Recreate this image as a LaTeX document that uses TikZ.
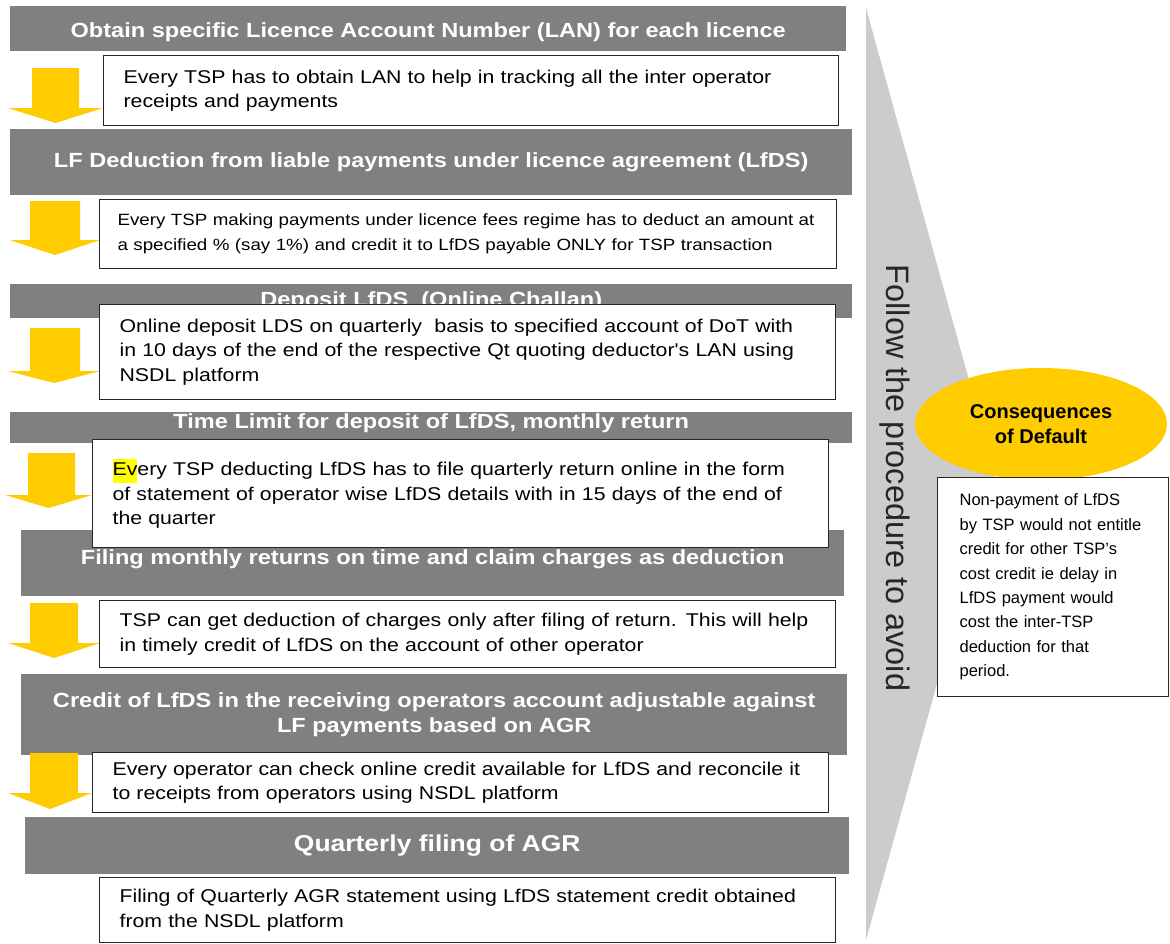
\documentclass[tikz,border=0pt]{standalone}
\usepackage{fontspec}
\setmainfont{Liberation Sans}
\newfontfamily\widesans{Liberation Sans}[FakeStretch=1.15]
\usetikzlibrary{shapes.geometric}
\definecolor{stagegray}{HTML}{808080}
\definecolor{flowgold}{HTML}{FFCC00}
\definecolor{wedgegray}{HTML}{CCCCCC}
\definecolor{markyellow}{HTML}{FFFF00}

\begin{document}
\begin{tikzpicture}[x=1pt, y=-1pt,
    stage/.style={fill=stagegray, text=white, anchor=north west, inner sep=0pt,
                  align=center, font=\widesans\bfseries\fontsize{20.5}{25}\selectfont},
    note/.style={draw=black!85, line width=1.2pt, fill=white, anchor=north west,
                 inner xsep=20pt, inner ysep=0pt, align=left,
                 font=\widesans\fontsize{18.5}{24.5}\selectfont},
    flow/.style={fill=flowgold}]
  \useasboundingbox (0,0) rectangle (1170,943);
  \fill[white] (0,0) rectangle (1170,943);

  % big wedge with the vertical caption
  \fill[wedgegray] (866,8) -- (995,474) -- (866,940) -- cycle;
  \node[rotate=-90, text=black!85, font=\fontsize{32.5}{38}\selectfont] (avoid) at (895,478)
    {Follow the procedure to avoid};

  % grey step headers
  \node[stage, minimum width=836pt, minimum height=45pt, text height=18pt, text depth=0pt] (lan) at (10,6)
    {Obtain specific Licence Account Number (LAN) for each licence};
  \node[stage, minimum width=842pt, minimum height=66pt] (deduct) at (10,129)
    {LF Deduction from liable payments under licence agreement (LfDS)};
  \node[stage, minimum width=842pt, minimum height=34pt] (deposit) at (10,284)
    {Deposit LfDS~ (Online Challan)};
  \node[stage, minimum width=842pt, minimum height=31pt, text height=15pt, text depth=13pt] (limit) at (10,412)
    {Time Limit for deposit of LfDS, monthly return};
  \node[stage, minimum width=823pt, minimum height=66pt, text height=15pt, text depth=12pt] (filing) at (21,530)
    {Filing monthly returns on time and claim charges as deduction};
  \node[stage, minimum width=826pt, minimum height=81pt] (credit) at (21,674)
    {Credit of LfDS in the receiving operators account adjustable against\\LF payments based on AGR};
  \node[stage, minimum width=824pt, minimum height=57pt,
        font=\widesans\bfseries\fontsize{23}{28}\selectfont] (agr) at (25,817)
    {Quarterly filing of AGR};

  % yellow down arrows: shaft left/right, head left/right, top, neck, tip
  \foreach \sl/\sr/\hl/\hr/\top/\neck/\tip in {32/79/8/103/68/108/123,
      30/80/10/100/201/240/255, 30/80/8/100/328/371/383, 28/75/5/92/453/495/508,
      30/78/8/100/603/643/658, 30/78/8/92/753/793/809}
    \fill[flow] (\sl,\top) -- (\sr,\top) -- (\sr,\neck) -- (\hr,\neck)
      -- ({(\hl+\hr)/2},\tip) -- (\hl,\neck) -- (\sl,\neck) -- cycle;

  % white detail boxes
  \node[note, minimum width=735pt, minimum height=70pt, text width=695pt] (lanbox) at (103,55)
    {Every TSP has to obtain LAN to help in tracking all the inter operator\\receipts and payments};
  \node[note, minimum width=737pt, minimum height=69pt, text width=701pt, inner xsep=18pt,
        font=\widesans\fontsize{16.3}{25}\selectfont] (deductbox) at (99,199)
    {\mbox{Every TSP making payments under licence fees regime has to deduct an amount at}\\
     \mbox{a specified \% (say 1\%) and credit it to LfDS payable ONLY for TSP transaction}};
  \node[note, minimum width=736pt, minimum height=95pt, text width=696pt] (depositbox) at (99,304)
    {Online deposit LDS on quarterly~ basis to specified account of DoT with\\in 10 days of the end of the respective Qt quoting deductor's LAN using\\NSDL platform};
  \node[note, minimum width=736pt, minimum height=108pt, text width=696pt] (limitbox) at (92,439)
    {{\setlength{\fboxsep}{0pt}\colorbox{markyellow}{\strut Ev}}ery TSP deducting LfDS has to file quarterly return online in the form\\of statement of operator wise LfDS details with in 15 days of the end of\\the quarter};
  \node[note, minimum width=736pt, minimum height=67pt, text width=696pt] (filingbox) at (99,600)
    {TSP can get deduction of charges only after filing of return. This will help\\in timely credit of LfDS on the account of other operator};
  \node[note, minimum width=736pt, minimum height=60pt, text width=696pt] (creditbox) at (92,752)
    {Every operator can check online credit available for LfDS and reconcile it\\to receipts from operators using NSDL platform};
  \node[note, minimum width=736pt, minimum height=65pt, text width=696pt] (agrbox) at (99,877)
    {Filing of Quarterly AGR statement using LfDS statement credit obtained\\from the NSDL platform};

  % consequences on the right
  \node[ellipse, fill=flowgold, minimum width=252pt, minimum height=112pt, align=center,
        font=\bfseries\fontsize{20}{25}\selectfont] (default) at (1041,424)
    {Consequences\\of Default};
  \node[note, minimum width=231pt, minimum height=219pt, text width=187pt, inner xsep=22pt,
        font=\fontsize{16.5}{24.4}\selectfont] (penalty) at (937,477)
    {Non-payment of LfDS\\by TSP would not entitle\\credit for other TSP's\\cost credit ie delay in\\LfDS payment would\\cost the inter-TSP\\deduction for that\\period.};
\end{tikzpicture}
\end{document}
